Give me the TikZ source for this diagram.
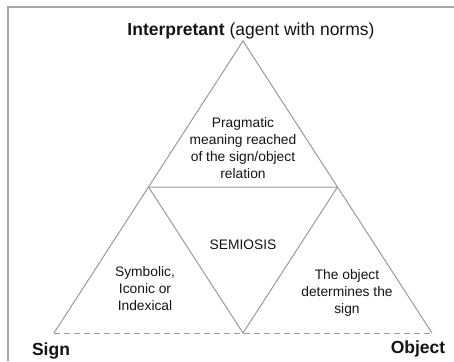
\documentclass[tikz,border=0pt]{standalone}
\usepackage{fontspec}
\setmainfont{Liberation Sans}
\usetikzlibrary{calc}
\definecolor{edgegray}{HTML}{9A9A9A}
\definecolor{framegray}{HTML}{A8A8A8}
\definecolor{ink}{HTML}{141414}
\tikzset{
  edge/.style={draw=edgegray, line width=1pt},
  baseedge/.style={edge, dashed, dash pattern=on 6pt off 4pt},
  cornerlabel/.style={font=\fontsize{17.5}{20}\selectfont\bfseries, text=ink, anchor=base, inner sep=0pt},
  regionlabel/.style={font=\fontsize{13.8}{17}\selectfont, text=ink, align=center, inner sep=0pt},
}
\begin{document}
\begin{tikzpicture}[x=1pt,y=-1pt]
  \useasboundingbox (0,0) rectangle (454,361);
  % frame along the top and left edges
  \draw[framegray, line width=1.6pt] (8,361) -- (8,7) -- (454,7);

  % vertices of the semiotic triangle
  \coordinate (I) at (243,41);
  \coordinate (S) at (54,333);
  \coordinate (O) at (432,333);
  \coordinate (IS) at ($(I)!0.5!(S)$);
  \coordinate (IO) at ($(I)!0.5!(O)$);
  \coordinate (SO) at ($(S)!0.5!(O)$);

  % outer sides and dashed base
  \draw[edge] (S) -- (I) -- (O);
  \draw[baseedge] (S) -- (O);
  % inner inverted triangle
  \draw[edge] (IS) -- (IO) -- (SO) -- cycle;

  % corner labels
  \node[cornerlabel] (interp) at (251,35) {Interpretant \mdseries(agent with norms)};
  \node[cornerlabel] (sign) at (51,355) {Sign};
  \node[cornerlabel] (object) at (418,353) {Object};

  % region labels
  \node[regionlabel] (prag) at (243,148) {Pragmatic\\meaning reached\\of the sign/object\\relation};
  \node[regionlabel] (semiosis) at (243,245) {SEMIOSIS};
  \node[regionlabel] (modes) at (145,289) {Symbolic,\\Iconic or\\Indexical};
  \node[regionlabel] (determ) at (347,293) {The object\\determines the\\sign};
\end{tikzpicture}
\end{document}
